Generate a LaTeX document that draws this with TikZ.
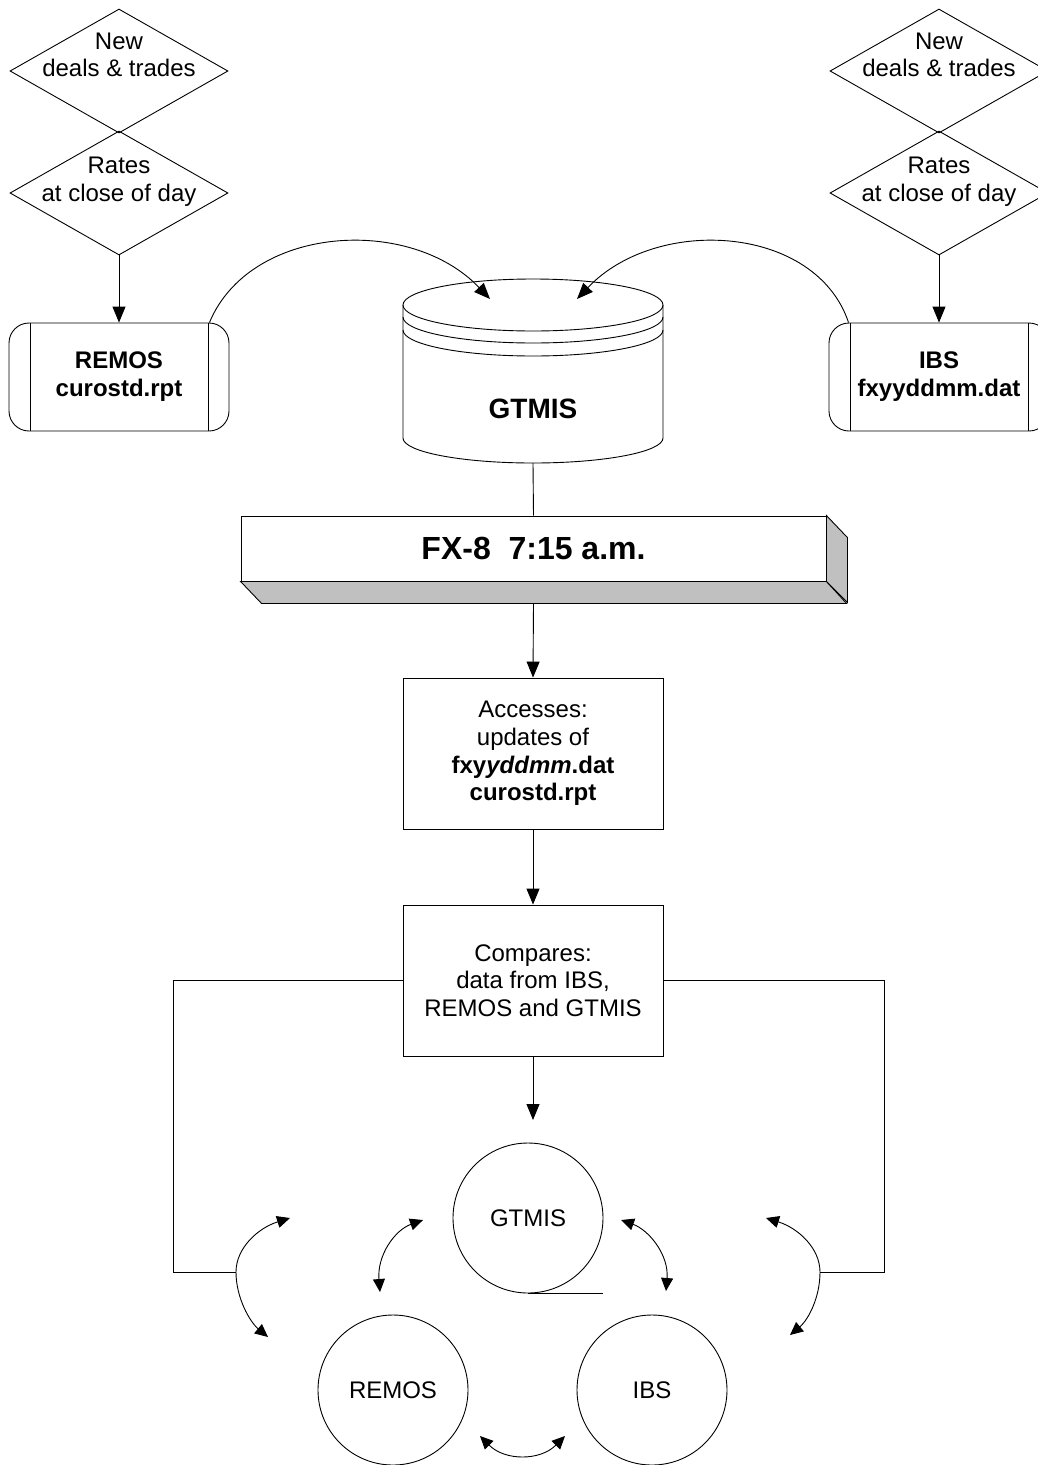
\documentclass[tikz,border=0pt]{standalone}
\usepackage{fontspec}
\setmainfont{Liberation Sans}
\usetikzlibrary{shapes.geometric,arrows.meta,positioning}
\definecolor{facegray}{HTML}{C0C0C0}

\begin{document}
\begin{tikzpicture}[x=1pt, y=-1pt, line width=0.9pt, >={Triangle[length=13pt,width=12pt]},
  flow/.style={-{Triangle[length=16pt,width=13pt]}},
  txt/.style={font=\fontsize{24}{27.6}\selectfont, align=center, inner sep=0pt},
  bold txt/.style={txt, font=\bfseries\fontsize{24}{28}\selectfont},
  decision/.style={diamond, draw, minimum width=218, minimum height=124, inner sep=0pt},
  source/.style={draw, rounded corners=20pt, minimum width=220, minimum height=108, bold txt,
    path picture={\draw ([xshift=21pt]path picture bounding box.north west) -- ([xshift=21pt]path picture bounding box.south west)
      ([xshift=-21pt]path picture bounding box.north east) -- ([xshift=-21pt]path picture bounding box.south east);}},
  process/.style={draw, rectangle, minimum width=260, minimum height=151, txt},
  tape/.style={draw, circle, minimum size=150, txt}]
\useasboundingbox (0,0) rectangle (1037,1465);

% inputs on the left
\node[decision] (dealsL) at (119,71) {};
\node[txt] (dealsLtxt) at (119,55) {New\\deals \& trades};
\node[decision] (ratesL) at (119,193) {};
\node[txt] (ratesLtxt) at (119,182) {Rates\\at close of day};
\node[source] (remos) at (119,377) {REMOS\\curostd.rpt};

% inputs on the right
\node[decision] (dealsR) at (939,71) {};
\node[txt] (dealsRtxt) at (939,55) {New\\deals \& trades};
\node[decision] (ratesR) at (939,193) {};
\node[txt] (ratesRtxt) at (939,182) {Rates\\at close of day};
\node[source] (ibs) at (939,377) {IBS\\fxyyddmm.dat};

% database
\draw (403,305) -- (403,438) arc[start angle=180, end angle=360, x radius=130pt, y radius=25pt] -- (663,305);
\draw (533,305) ellipse[x radius=130pt, y radius=26pt];
\draw (403,317) arc[start angle=180, end angle=360, x radius=130pt, y radius=26pt];
\draw (403,330) arc[start angle=180, end angle=360, x radius=130pt, y radius=26pt];
\node[font=\bfseries\fontsize{28}{32}\selectfont] (gtmis) at (533,409) {GTMIS};
\coordinate (gtmisbot) at (533,463);
\coordinate (gtmisinL) at (490,299);
\coordinate (gtmisinR) at (577,299);

% batch job
\node[draw, fill=white, minimum width=585, minimum height=65, inner sep=0pt,
  font=\bfseries\fontsize{32}{36}\selectfont] (fx) at (533.5,548.5) {FX-8\ \ 7:15 a.m.};
\draw[fill=facegray] (fx.south west) -- ++(21,22) -- ++(585,0) -- (fx.south east) -- cycle;
\draw[fill=facegray] (fx.north east) -- ++(21,22) -- ++(0,65) -- (fx.south east) -- cycle;
\coordinate (fxbase) at ([shift={(0,22)}]fx.south);

\node[process] (access) at (533,753.5) {Accesses:\\updates of\\\textbf{fxy\textit{yddmm}.dat}\\\textbf{curostd.rpt}};
\node[process] (compare) at (533,980.5) {Compares:\\data from IBS,\\REMOS and GTMIS};
\coordinate (gtmistop) at (533,1120);

% files compared
\node[tape] (gtmisc) at (528,1218) {GTMIS};
\node[tape] (remosc) at (393,1390) {REMOS};
\node[tape] (ibsc) at (652,1390) {IBS};
\draw (gtmisc.south) -- (gtmisc.south -| gtmisc.east);

% flow
\draw[flow] (ratesL.south) -- (remos.north);
\draw[flow] (ratesR.south) -- (ibs.north);
\draw[flow] ([xshift=-20pt]remos.north east) .. controls (250,225) and (410,215) .. (gtmisinL);
\draw[flow] ([xshift=20pt]ibs.north west) .. controls (816,225) and (657,215) .. (gtmisinR);
\draw (gtmisbot) -- (fx.north);
\draw[flow] (fxbase) -- (access.north);
\draw[flow] (access.south) -- (compare.north);
\draw[flow] (compare.south) -- (gtmistop);

% feedback
\coordinate (fbL) at (173,1272);
\coordinate (arcL) at (236,1272);
\coordinate (fbR) at (884,1272);
\coordinate (arcR) at (820,1272);
\draw (compare.west) -| (fbL) -- (arcL);
\draw (compare.east) -| (fbR) -- (arcR);

\coordinate (exLtop) at (290,1218);
\coordinate (exLbot) at (268,1337);
\coordinate (exRtop) at (766,1218);
\coordinate (exRbot) at (790,1335);
\draw[<->] (exLtop) .. controls (258,1228) and (236,1248) .. (arcL) .. controls (236,1298) and (250,1322) .. (exLbot);
\draw[<->] (exRtop) .. controls (798,1228) and (820,1248) .. (arcR) .. controls (820,1298) and (808,1320) .. (exRbot);

\coordinate (grA) at (423,1220);
\coordinate (grB) at (380,1292);
\coordinate (giA) at (621,1220);
\coordinate (giB) at (666,1291);
\coordinate (riA) at (480,1436);
\coordinate (riB) at (565,1436);
\draw[<->] (grA) .. controls (395,1230) and (377,1255) .. (grB);
\draw[<->] (giA) .. controls (649,1230) and (669,1255) .. (giB);
\draw[<->] (riA) .. controls (505,1461) and (540,1461) .. (riB);
\end{tikzpicture}
\end{document}
